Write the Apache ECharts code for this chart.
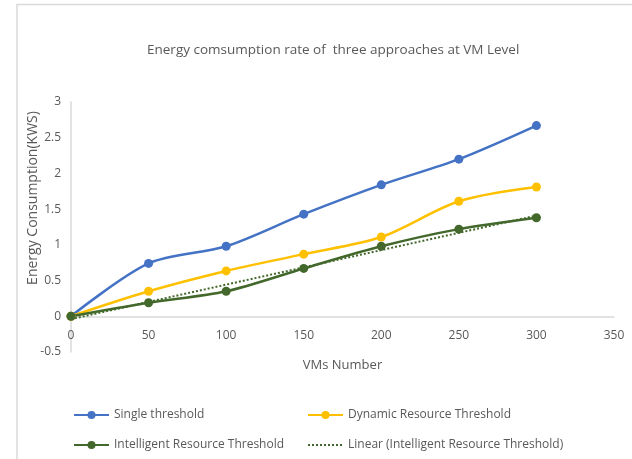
<!DOCTYPE html>
<html>
<head>
<meta charset="utf-8">
<script src="https://cdn.jsdelivr.net/npm/echarts@6/dist/echarts.min.js"></script>
<style>
  html, body { margin: 0; padding: 0; background: #fff; }
  #chart { width: 632px; height: 459px; }
</style>
</head>
<body>
<div id="chart"></div>
<script>
// VMs number on the x axis
const vmCounts = [0, 50, 100, 150, 200, 250, 300];
// energy consumption (KWS)
const singleThreshold = [0, 0.74, 0.98, 1.43, 1.84, 2.2, 2.67];
const dynamicThreshold = [0, 0.35, 0.635, 0.87, 1.11, 1.61, 1.81];
const intelligentThreshold = [0, 0.19, 0.35, 0.67, 0.98, 1.22, 1.38];
// end points of the linear trend line (Excel trendline)
const trendX = [0, 300];
const trendY = [-0.04, 1.41];

const names = [
  'Single threshold',
  'Dynamic Resource Threshold',
  'Intelligent Resource Threshold',
  'Linear (Intelligent Resource Threshold)'
];

const pairs = (xs, ys) => xs.map((x, i) => [x, ys[i]]);
const font = 'Open Sans, Noto Sans, sans-serif';
const grey = '#595959';

let myChart = echarts.init(document.getElementById('chart'));

function lineSeries(name, color, values) {
  return {
    name: name,
    type: 'line',
    data: pairs(vmCounts, values),
    smooth: 0.3,
    symbol: 'circle',
    symbolSize: 9,
    showSymbol: true,
    color: color,
    lineStyle: { color: color, width: 2.5 },
    itemStyle: { color: color },
    z: 3
  };
}

const legendBase = {
  orient: 'vertical',
  top: 404,
  itemWidth: 35,
  itemHeight: 10,
  itemGap: 18,
  textStyle: { color: grey, fontSize: 12, fontFamily: font }
};

myChart.setOption({
  animation: false,
  backgroundColor: '#fff',
  title: {
    text: 'Energy comsumption rate of  three approaches at VM Level',
    left: 142,
    top: 38,
    textStyle: { color: grey, fontSize: 13.5, fontWeight: 'normal', fontFamily: font }
  },
  graphic: [
    {
      type: 'rect',
      shape: { x: 17, y: 4.5, width: 640, height: 480 },
      style: { fill: 'none', stroke: '#d9d9d9', lineWidth: 1.5 },
      silent: true
    }
  ],
  grid: { left: 71, right: 18, top: 102, bottom: 107 },
  legend: [
    Object.assign({}, legendBase, { left: 68, data: [names[0], names[2]] }),
    Object.assign({}, legendBase, {
      left: 302,
      data: [
        names[1],
        { name: names[3], itemStyle: { color: 'rgba(0,0,0,0)', borderWidth: 0 } }
      ]
    })
  ],
  xAxis: {
    type: 'value',
    min: 0,
    max: 350,
    interval: 50,
    name: 'VMs Number',
    nameLocation: 'middle',
    nameGap: 7,
    nameMoveOverlap: false,
    nameTextStyle: { color: grey, fontSize: 13, fontFamily: font },
    axisLine: { onZero: true, lineStyle: { color: '#d9d9d9', width: 1.5 } },
    axisTick: { show: false },
    axisLabel: { color: grey, fontSize: 12, fontFamily: font, margin: -22 },
    splitLine: { show: false }
  },
  yAxis: {
    type: 'value',
    min: -0.5,
    max: 3,
    interval: 0.5,
    name: 'Energy Consumption(KWS)',
    nameLocation: 'middle',
    nameGap: 31,
    nameMoveOverlap: false,
    nameTextStyle: { color: grey, fontSize: 14, fontFamily: font, padding: [0, 0, 0, 58] },
    axisLine: { show: true, lineStyle: { color: '#d9d9d9', width: 1.5 } },
    axisTick: { show: false },
    axisLabel: { color: grey, fontSize: 12, fontFamily: font, margin: 10 },
    splitLine: { show: false }
  },
  series: [
    lineSeries(names[0], '#4472C4', singleThreshold),
    lineSeries(names[1], '#FFC000', dynamicThreshold),
    lineSeries(names[2], '#43682B', intelligentThreshold),
    {
      name: names[3],
      type: 'line',
      data: pairs(trendX, trendY),
      symbol: 'none',
      color: '#43682B',
      lineStyle: { color: '#43682B', width: 2, type: [2, 2] },
      z: 2
    }
  ]
});
</script>
</body>
</html>
